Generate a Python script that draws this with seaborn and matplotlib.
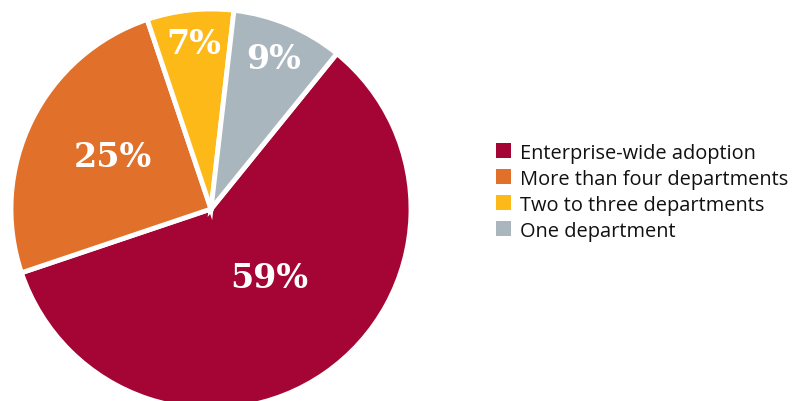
import matplotlib
matplotlib.use("Agg")
import matplotlib.pyplot as plt
import seaborn as sns
import numpy as np
from matplotlib.patches import Patch

sns.set_theme(style="white")
plt.rcParams['font.family'] = ['Open Sans', 'DejaVu Sans']

categories = ["Enterprise-wide adoption", "More than four departments",
              "Two to three departments", "One department"]
values = [59, 25, 7, 9]
labels = ["59%", "25%", "7%", "9%"]
colors = ["#A50534", "#E0702A", "#FCB918", "#A9B6BE"]

fig = plt.figure(figsize=(7.98, 4.02), dpi=100)
ax = fig.add_axes([0, 0, 1, 1])

wedges, _ = ax.pie(values, colors=colors, startangle=51, counterclock=False,
                   radius=1.0, center=(0, 0),
                   wedgeprops=dict(edgecolor="white", linewidth=3.5))

# label placement: radial fraction and angular nudge (degrees) per slice
label_r = [0.45, 0.557, 0.834, 0.815]
label_da = [6, -2, 0, 0]
for w, lab, r, da in zip(wedges, labels, label_r, label_da):
    ang = np.deg2rad((w.theta1 + w.theta2) / 2 + da)
    ax.text(r * np.cos(ang), r * np.sin(ang), lab, ha="center", va="center",
            color="white", fontsize=24, fontweight="bold",
            family=["DejaVu Serif"])

ax.set_aspect("auto")
ax.set_xlim(-211 / 200, (798 - 211) / 200)
ax.set_ylim((210 - 402) / 200, 210 / 200)
ax.axis("off")

handles = [Patch(facecolor=c, edgecolor="none") for c in colors]
leg = fig.legend(handles, categories, loc="center left", bbox_to_anchor=(0.612, 0.521),
                 frameon=False, fontsize=14.4, handlelength=0.75, handleheight=0.75,
                 handletextpad=0.42, labelspacing=0.3, borderaxespad=0)
for t in leg.get_texts():
    t.set_color("#111111")

fig.savefig("out.png", dpi=100)
